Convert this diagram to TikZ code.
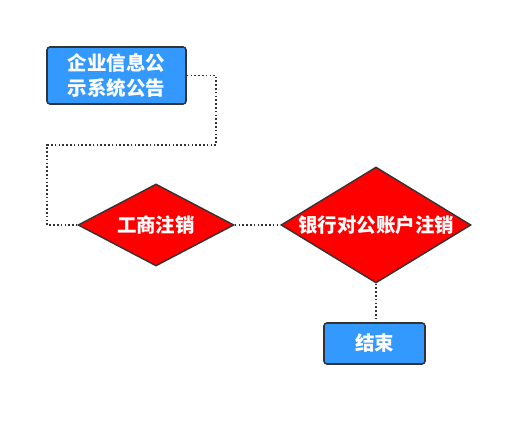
\documentclass[tikz,border=0pt]{standalone}
\usepackage{fontspec}
\setmainfont{Noto Sans CJK SC}
\usetikzlibrary{shapes.geometric}
\definecolor{boxblue}{HTML}{3399FF}
\definecolor{edge}{HTML}{333333}
\definecolor{dred}{HTML}{FF0000}
\tikzset{
  txt/.style={text=white,font=\fontsize{19.5}{25}\selectfont\bfseries,align=center,inner sep=0pt},
  bluebox/.style={txt,draw=edge,line width=1.6pt,fill=boxblue,rounded corners=3pt},
  decision/.style={draw=edge,line width=1.4pt,fill=dred,diamond,inner sep=0pt,
    label={[txt]center:#1}},
  conn/.style={draw=edge,line width=1.8pt,dash pattern=on 1.6pt off 2.2pt}
}
\begin{document}
\begin{tikzpicture}[x=1pt,y=-1pt]
\useasboundingbox (0,0) rectangle (531,427);
\node[bluebox,minimum width=139pt,minimum height=57pt] (info) at (116.5,75.5) {企业信息公\\示系统公告};
\node[decision=工商注销,minimum width=156pt,minimum height=82pt] (gs) at (156,225) {};
\node[decision=银行对公账户注销,minimum width=190pt,minimum height=116pt] (bank) at (376,225) {};
\node[bluebox,minimum width=101pt,minimum height=41pt] (end) at (374.5,343.5) {结束};
\coordinate (turn) at (216,145);
\draw[conn] (info.east) -| (turn) -| ([xshift=-30pt]gs.west) -- (gs.west);
\draw[conn] (gs.east) -- (bank.west);
\draw[conn] (bank.south) -- (bank.south |- end.north);
\end{tikzpicture}
\end{document}
